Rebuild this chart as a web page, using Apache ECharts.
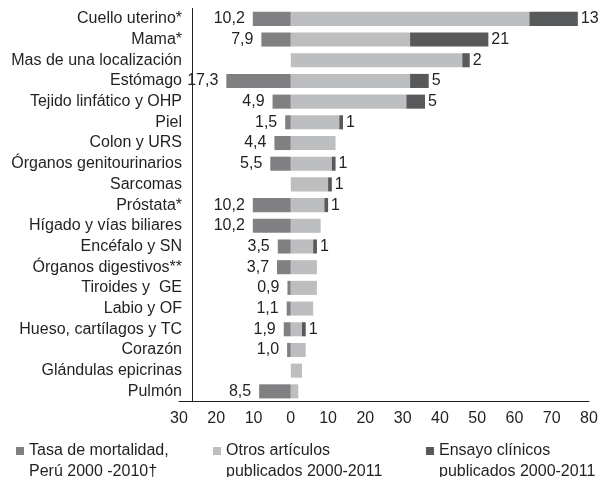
<!DOCTYPE html>
<html>
<head>
<meta charset="utf-8">
<script src="https://cdn.jsdelivr.net/npm/echarts@6/dist/echarts.min.js"></script>
<style>
  html, body { margin: 0; padding: 0; background: #fff; }
  #chart { width: 606px; height: 477px; }
</style>
</head>
<body>
<div id="chart"></div>
<script>
// categorias (de arriba hacia abajo)
var categorias = ['Cuello uterino*', 'Mama*', 'Mas de una localización', 'Estómago',
  'Tejido linfático y OHP', 'Piel', 'Colon y URS', 'Órganos genitourinarios', 'Sarcomas',
  'Próstata*', 'Hígado y vías biliares', 'Encéfalo y SN', 'Órganos digestivos**',
  'Tiroides y  GE', 'Labio y OF', 'Hueso, cartílagos y TC', 'Corazón',
  'Glándulas epicrinas', 'Pulmón'];

// tasa de mortalidad (se dibuja hacia la izquierda)
var mortalidad = [10.2, 7.9, null, 17.3, 4.9, 1.5, 4.4, 5.5, null, 10.2, 10.2, 3.5, 3.7,
  0.9, 1.1, 1.9, 1.0, null, 8.5];
// otros articulos (estimados del grafico)
var otros = [64, 32, 46, 32, 31, 13, 12, 11, 10, 9, 8, 6, 7, 7, 6, 3, 4, 3, 2];
// ensayos clinicos
var ensayos = [13, 21, 2, 5, 5, 1, null, 1, 1, 1, null, 1, null, null, null, 1, null, null, null];

var nombres = ['Tasa de mortalidad,\nPerú 2000 -2010†', 'Otros artículos\npublicados 2000-2011',
  'Ensayo clínicos\npublicados 2000-2011'];
var colores = ['#808083', '#bdbec0', '#58595b'];

var fuente = "'Liberation Sans', Arial, sans-serif";
var chart = echarts.init(document.getElementById('chart'));

function leyenda(i, x) {
  return {
    left: x, top: 414.5,
    itemWidth: 8, itemHeight: 8,
    icon: 'rect',
    selectedMode: false,
    data: [nombres[i]],
    // linea vacia arriba para que el cuadrito quede en la primera linea
    formatter: function (n) { return ' \n' + n; },
    textStyle: {
      fontFamily: fuente, fontSize: 16, color: '#231f20',
      lineHeight: 21
    }
  };
}

var option = {
  animation: false,
  color: colores,
  grid: { left: 179, right: 17, top: 8.5, bottom: 75.3 },
  legend: [leyenda(0, 11), leyenda(1, 208), leyenda(2, 421)],
  xAxis: [{
    type: 'value',
    position: 'bottom',
    min: -30, max: 80, interval: 10,
    axisLine: { show: false },
    axisTick: { show: false },
    splitLine: { show: false },
    axisLabel: {
      margin: 9,
      fontFamily: fuente, fontSize: 16, color: '#231f20',
      formatter: function (v) { return Math.abs(v); }
    }
  }, {
    type: 'value',
    position: 'bottom',
    min: -26.5, max: 82.3,
    axisLine: { show: true, onZero: false, lineStyle: { color: '#231f20', width: 1 } },
    axisTick: { show: false },
    splitLine: { show: false },
    axisLabel: { show: false }
  }],
  yAxis: {
    type: 'category',
    data: categorias,
    inverse: true,
    offset: -13,
    axisLine: { onZero: false, lineStyle: { color: '#231f20', width: 1 } },
    axisTick: { show: false },
    axisLabel: { interval: 0, margin: 10, fontFamily: fuente, fontSize: 16, color: '#231f20' }
  },
  series: [{
    name: nombres[0],
    type: 'bar',
    stack: 'total',
    barCategoryGap: '32%',
    data: mortalidad.map(function (v) { return v == null ? null : -v; }),
    label: {
      show: true, position: 'left', distance: 8,
      fontFamily: fuente, fontSize: 16, color: '#231f20',
      formatter: function (p) { return Math.abs(p.value).toFixed(1).replace('.', ','); }
    }
  }, {
    name: nombres[1],
    type: 'bar',
    stack: 'total',
    data: otros
  }, {
    name: nombres[2],
    type: 'bar',
    stack: 'total',
    data: ensayos,
    label: {
      show: true, position: 'right', distance: 3,
      fontFamily: fuente, fontSize: 16, color: '#231f20'
    }
  }]
};

chart.setOption(option);
</script>
</body>
</html>
